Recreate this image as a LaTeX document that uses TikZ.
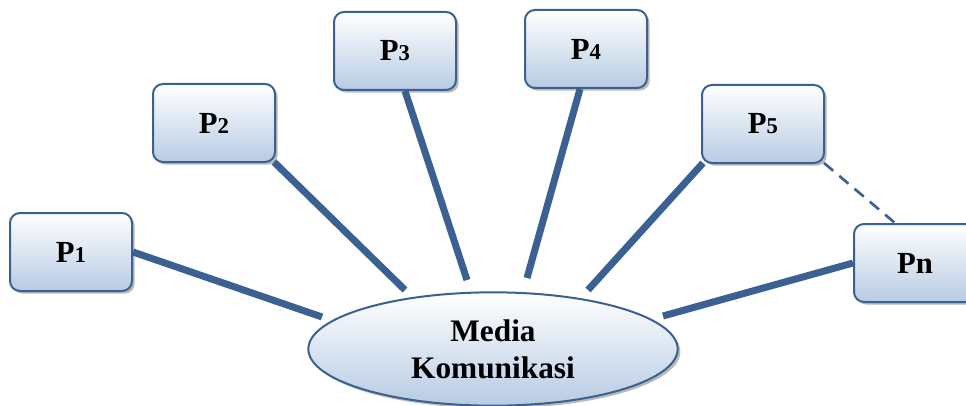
\documentclass[tikz,border=0pt]{standalone}
\usepackage{fontspec}
\setmainfont{Liberation Serif}[BoldFont={Liberation Serif Bold}]
\usetikzlibrary{shapes.geometric,shadows}
\definecolor{edge}{HTML}{3A6192}
\definecolor{fillbot}{HTML}{B7CBE3}
\newcommand\pnum[1]{P{\fontsize{17}{17}\selectfont #1}}
\tikzset{
  pbox/.style={rectangle, rounded corners=7.5pt, draw=edge, line width=1.5pt,
    top color=white, bottom color=fillbot,
    minimum width=91.5pt, minimum height=58.5pt,
    font=\bfseries\fontsize{23}{23}\selectfont,
    drop shadow={shadow xshift=2pt, shadow yshift=-2pt, fill=black!45, opacity=0.6}},
  hub/.style={ellipse, draw=edge, line width=1.5pt,
    top color=white, bottom color=fillbot,
    minimum width=277pt, minimum height=85pt, inner sep=0pt,
    align=center, font=\bfseries\fontsize{23.5}{28}\selectfont,
    drop shadow={shadow xshift=2pt, shadow yshift=-2pt, fill=black!45, opacity=0.6}},
  link/.style={draw=edge, line width=5.25pt},
  dlink/.style={draw=edge, line width=2pt, dash pattern=on 9pt off 6pt}
}
\begin{document}
\begin{tikzpicture}[x=0.75pt, y=-0.75pt]
  \useasboundingbox (0,0) rectangle (966,406);
  \clip (0,0) rectangle (966,406);

  % connector end points near the central ellipse
  \coordinate (e1) at (322,317);
  \coordinate (e2) at (405,290);
  \coordinate (e3) at (467,280);
  \coordinate (e4) at (527,278);
  \coordinate (e5) at (588,290);
  \coordinate (e6) at (663,316);

  % participants
  \node[pbox] (P1) at (71,252) {\pnum{1}};
  \node[pbox] (P2) at (214,123) {\pnum{2}};
  \node[pbox] (P3) at (395,51) {\pnum{3}};
  \node[pbox] (P4) at (586,49) {\pnum{4}};
  \node[pbox] (P5) at (763,124) {\pnum{5}};
  \node[pbox] (Pn) at (915,263) {P{n}};

  % central medium
  \node[hub] (M) at (493,349) {Media\\Komunikasi};

  % connections
  \draw[link] (P1.east) -- (e1);
  \draw[link] (P2.south east) ++(-2,-1) coordinate (s2) (s2) -- (e2);
  \draw[link] (P3.south) ++(10,0) coordinate (s3) (s3) -- (e3);
  \draw[link] (P4.south) ++(-6,0) coordinate (s4) (s4) -- (e4);
  \draw[link] (P5.south west) ++(2,-1) coordinate (s5) (s5) -- (e5);
  \draw[link] (Pn.west) -- (e6);
  \draw[dlink] (P5.south east) ++(-1,-1) coordinate (s6) (s6) -- ([xshift=-15pt]Pn.north);
\end{tikzpicture}
\end{document}
